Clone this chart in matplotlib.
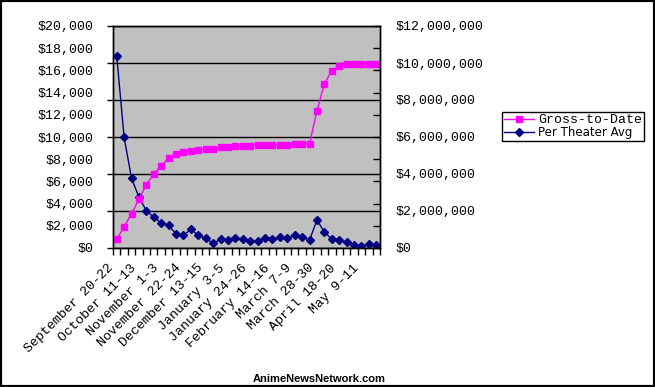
import numpy as np
import matplotlib.pyplot as plt
import matplotlib.transforms as mtransforms
from matplotlib.ticker import FixedLocator, FuncFormatter
from matplotlib.patches import Rectangle

# weekend box office, Sep 2002 - May 2003
weekends = [
    'September 20-22', 'September 27-29', 'October 4-6', 'October 11-13',
    'October 18-20', 'October 25-27', 'November 1-3', 'November 8-10',
    'November 15-17', 'November 22-24', 'November 29-December 1', 'December 6-8',
    'December 13-15', 'December 20-22', 'December 27-29', 'January 3-5',
    'January 10-12', 'January 17-19', 'January 24-26', 'January 31-February 2',
    'February 7-9', 'February 14-16', 'February 21-23', 'February 28-March 2',
    'March 7-9', 'March 14-16', 'March 21-23', 'March 28-30',
    'April 4-6', 'April 11-13', 'April 18-20', 'April 25-27',
    'May 2-4', 'May 9-11', 'May 16-18', 'May 23-25',
]

per_theater = [
    17300, 9970, 6280, 4570, 3360, 2760, 2280, 2040, 1260, 1140,
    1680, 1140, 870, 420, 780, 690, 870, 810, 630, 630,
    870, 810, 990, 870, 1140, 990, 720, 2520, 1440, 810,
    720, 540, 240, 180, 360, 270,
]

gross = [
    470000, 1150000, 1850000, 2650000, 3420000, 4000000, 4450000, 4850000,
    5060000, 5170000, 5260000, 5320000, 5330000, 5370000, 5440000, 5480000,
    5530000, 5530000, 5530000, 5580000, 5580000, 5580000, 5580000, 5580000,
    5640000, 5640000, 5640000, 7420000, 8880000, 9580000, 9850000, 9960000,
    9960000, 9960000, 9960000, 9960000,
]

mono = 'Liberation Mono'
fs = 9.5

x = np.arange(len(weekends))

fig = plt.figure(figsize=(6.55, 3.87), dpi=100)
ax = fig.add_axes([113 / 655, 1 - 248 / 387, 267 / 655, 222 / 387])
ax.set_facecolor('#c0c0c0')
ax2 = ax.twinx()

l1, = ax.plot(x, per_theater, color='#000080', marker='D', ms=4.5, lw=1,
              label='Per Theater Avg')
l2, = ax2.plot(x, gross, color='#ff00ff', marker='s', ms=4.5, lw=1,
               label='Gross-to-Date')

ax.set_xlim(-0.5, len(weekends) - 0.5)
ax.set_ylim(0, 20000)
ax2.set_ylim(0, 12000000)

money = FuncFormatter(lambda v, p: '${:,.0f}'.format(v))

# left axis: labels every $2,000, ticks/grid every sixth
ax.set_yticks(np.arange(0, 20001, 2000))
ax.yaxis.set_major_formatter(money)
ax.yaxis.set_minor_locator(FixedLocator(np.linspace(0, 20000, 7)))
ax.yaxis.remove_overlapping_locs = False
ax.tick_params(axis='y', which='major', length=0, pad=14)
ax.tick_params(axis='y', which='minor', length=4, direction='out', width=1)
ax.grid(axis='y', which='minor', color='black', lw=1)
ax.set_axisbelow(True)

# right axis
ax2.set_yticks(np.arange(0, 12000001, 2000000))
ax2.yaxis.set_major_formatter(money)
ax2.yaxis.set_minor_locator(FixedLocator(np.linspace(0, 12000000, 11)))
ax2.yaxis.remove_overlapping_locs = False
ax2.tick_params(axis='y', which='major', length=0, pad=11)
ax2.tick_params(axis='y', which='minor', length=5, direction='in', width=1)

# x axis: ticks between categories, label every third weekend
ax.set_xticks(x[::3])
ax.set_xticklabels(weekends[::3])
ax.set_xticks(np.arange(-0.5, len(weekends), 1), minor=True)
ax.tick_params(axis='x', which='major', length=0, pad=10)
ax.tick_params(axis='x', which='minor', length=5, direction='out', width=1)
shift = mtransforms.ScaledTranslation(-9 / 100, 0, fig.dpi_scale_trans)
for t in ax.get_xticklabels():
    t.set_rotation(45)
    t.set_ha('right')
    t.set_va('top')
    t.set_rotation_mode('anchor')
    t.set_transform(t.get_transform() + shift)

for t in ax.get_xticklabels() + ax.get_yticklabels() + ax2.get_yticklabels():
    t.set_family(mono)
    t.set_fontsize(fs)

for a in (ax, ax2):
    for s in a.spines.values():
        s.set_color('black')
        s.set_linewidth(1)

leg = fig.legend([l2, l1], ['Gross-to-Date', 'Per Theater Avg'],
                 loc='upper left', bbox_to_anchor=(502 / 655, 1 - 112 / 387),
                 borderaxespad=0, prop={'family': mono, 'size': fs},
                 handlelength=2.3, handletextpad=0.3, labelspacing=0.0,
                 borderpad=0.15, fancybox=False, framealpha=1, edgecolor='black')
leg.get_frame().set_linewidth(1)
leg.get_texts()[1].set_family('DejaVu Sans')
leg.get_texts()[1].set_fontsize(8.5)

fig.text(386 / 655, 5 / 387, 'AnimeNewsNetwork.com', ha='right', va='baseline',
         family='Liberation Sans', weight='bold', fontsize=8.0)

fig.add_artist(Rectangle((0, 0), 1, 1, transform=fig.transFigure, fill=False,
                         edgecolor='black', lw=3))

fig.savefig('out.png', dpi=100)
